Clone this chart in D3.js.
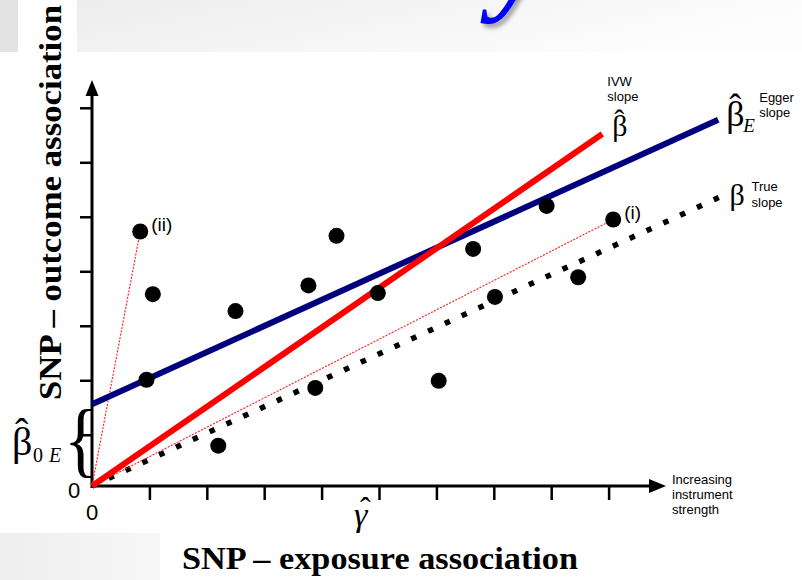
<!DOCTYPE html>
<html><head><meta charset="utf-8">
<script src="https://cdn.jsdelivr.net/npm/d3@7"></script>
<style>body{margin:0;background:#fff;} svg{display:block;}</style>
</head><body>
<svg id="chart" width="802" height="580"></svg>
<script>
// ---- data ----
const xTicks = [1, 2, 3, 4, 5, 6, 7, 8, 9];
const yTicks = [0.94, 1.94, 2.94, 3.94, 4.94, 5.94, 6.94];
const snpX = [0.84, 1.06, 0.95, 2.20, 2.50, 3.77, 4.26, 3.89, 4.98, 6.04, 6.64, 7.02, 7.92, 8.47, 9.08];
const snpY = [4.67, 3.52, 1.95, 0.74, 3.21, 3.68, 4.59, 1.80, 3.54, 1.93, 4.35, 3.47, 5.14, 3.83, 4.89];
const snpLabels = ["(ii)", "", "", "", "", "", "", "", "", "", "", "", "", "", "(i)"];
const eggerX = [0, 10.91], eggerY = [1.50, 6.72];
const ivwX = [0, 8.89], ivwY = [0, 6.46];
const trueX = [0, 10.95], trueY = [0, 5.31];
const axisTitleX = "SNP – exposure association";
const axisTitleY = "SNP – outcome association";
const strengthLabel = ["Increasing", "instrument", "strength"];

const svg = d3.select("#chart");
const defs = svg.append("defs");
const g1 = defs.append("linearGradient").attr("id", "topg").attr("x1", 0).attr("x2", 1).attr("y1", 0).attr("y2", 0.3);
g1.append("stop").attr("offset", 0).attr("stop-color", "#ebebeb");
g1.append("stop").attr("offset", 1).attr("stop-color", "#fdfdfd");
const g2 = defs.append("linearGradient").attr("id", "botg").attr("x1", 0).attr("x2", 1);
g2.append("stop").attr("offset", 0).attr("stop-color", "#eeeeee");
g2.append("stop").attr("offset", 1).attr("stop-color", "#f7f7f7");
const sh = defs.append("filter").attr("id", "shadow").attr("x", "-50%").attr("y", "-50%").attr("width", "200%").attr("height", "200%");
sh.append("feDropShadow").attr("dx", 3).attr("dy", 4).attr("stdDeviation", 2).attr("flood-color", "#000").attr("flood-opacity", 0.35);

// slide background pieces
svg.append("rect").attr("x", 0).attr("y", 0).attr("width", 802).attr("height", 52).attr("fill", "url(#topg)");
svg.append("rect").attr("x", 0).attr("y", 0).attr("width", 18).attr("height", 52).attr("fill", "#e3e3e3");
svg.append("rect").attr("x", 18).attr("y", 0).attr("width", 59).attr("height", 52).attr("fill", "#ffffff");
svg.append("rect").attr("x", 0).attr("y", 533).attr("width", 160).attr("height", 47).attr("fill", "url(#botg)");
svg.append("text").attr("x", 492).attr("y", 0).attr("fill", "#0000ff")
  .attr("font-family", "Liberation Serif").attr("font-style", "italic").attr("font-weight", "bold")
  .attr("font-size", 115).attr("filter", "url(#shadow)").text("y");

const x = d3.scaleLinear().domain([0, 10]).range([92, 666]);
const y = d3.scaleLinear().domain([0, 7.45]).range([486, 80]);

// axes ticks
const xa = svg.append("g").attr("transform", `translate(0,${y(0)})`)
  .call(d3.axisBottom(x).tickValues(xTicks).tickSize(14).tickSizeOuter(0).tickFormat(""));
xa.select(".domain").remove();
xa.selectAll("line").attr("stroke", "#000").attr("stroke-width", 2.5);
const ya = svg.append("g").attr("transform", `translate(${x(0)},0)`)
  .call(d3.axisLeft(y).tickValues(yTicks).tickSize(12).tickSizeOuter(0).tickFormat(""));
ya.select(".domain").remove();
ya.selectAll("line").attr("stroke", "#000").attr("stroke-width", 2.5);

// axis lines with arrows
svg.append("line").attr("x1", x(0)).attr("x2", x(10) - 10).attr("y1", y(0)).attr("y2", y(0))
  .attr("stroke", "#000").attr("stroke-width", 3);
svg.append("path").attr("d", `M${x(10)},${y(0)} L${x(10) - 17},${y(0) - 7} L${x(10) - 17},${y(0) + 7} Z`).attr("fill", "#000");
svg.append("line").attr("x1", x(0)).attr("x2", x(0)).attr("y1", y(0) + 2).attr("y2", y(7.45) + 10)
  .attr("stroke", "#000").attr("stroke-width", 3);
svg.append("path").attr("d", `M${x(0)},${y(7.45)} L${x(0) - 6.5},${y(7.45) + 16} L${x(0) + 6.5},${y(7.45) + 16} Z`).attr("fill", "#000");

const line = d3.line().x(d => x(d[0])).y(d => y(d[1]));
const pts = (xs, ys) => xs.map((v, i) => [v, ys[i]]);

// true slope (dotted)
svg.append("path").attr("d", line(pts(trueX, trueY))).attr("fill", "none")
  .attr("stroke", "#000").attr("stroke-width", 5.5).attr("stroke-dasharray", "5.5 13");
// thin red dotted lines to (i) and (ii)
snpLabels.forEach((l, i) => {
  if (!l) return;
  svg.append("path").attr("d", line([[0, 0], [snpX[i], snpY[i]]])).attr("fill", "none")
    .attr("stroke", "#ff2a2a").attr("stroke-width", 1.2).attr("stroke-dasharray", "2 1.4");
});
// Egger (blue) and IVW (red)
svg.append("path").attr("d", line(pts(eggerX, eggerY))).attr("fill", "none")
  .attr("stroke", "#00007f").attr("stroke-width", 6);
svg.append("path").attr("d", line(pts(ivwX, ivwY))).attr("fill", "none")
  .attr("stroke", "#ff0000").attr("stroke-width", 6);

// points
svg.append("g").selectAll("circle").data(snpX).join("circle")
  .attr("cx", (d, i) => x(d)).attr("cy", (d, i) => y(snpY[i])).attr("r", 8).attr("fill", "#000");
svg.append("g").selectAll("text").data(snpLabels.map((l, i) => ({ l, i })).filter(d => d.l)).join("text")
  .attr("x", d => x(snpX[d.i]) + 11).attr("y", d => y(snpY[d.i]) - 1)
  .attr("font-family", "Liberation Sans").attr("font-size", 19).attr("fill", "#000").text(d => d.l);

// text helpers
const serif = "Liberation Serif", sans = "Liberation Sans";
function t(xp, yp, s, size, fam, opts = {}) {
  const e = svg.append("text").attr("x", xp).attr("y", yp).attr("font-family", fam).attr("font-size", size).attr("fill", "#000").text(s);
  Object.entries(opts).forEach(([k, v]) => e.attr(k, v));
  return e;
}
// IVW label
const ivwEnd = [x(ivwX[1]), y(ivwY[1])];
t(ivwEnd[0] + 5, ivwEnd[1] - 48, "IVW", 13, sans);
t(ivwEnd[0] + 5, ivwEnd[1] - 33, "slope", 13, sans);
t(ivwEnd[0] + 10, ivwEnd[1] + 2, "β", 30, serif);
t(ivwEnd[0] + 12, ivwEnd[1] - 4, "ˆ", 30, serif);
// Egger label
const egEnd = [x(eggerX[1]), y(eggerY[1])];
t(egEnd[0] + 8, egEnd[1] + 6, "β", 36, serif);
t(egEnd[0] + 11, egEnd[1] - 1, "ˆ", 36, serif);
t(egEnd[0] + 25, egEnd[1] + 12, "E", 19, serif, { "font-style": "italic" });
t(egEnd[0] + 41, egEnd[1] - 18, "Egger", 13, sans);
t(egEnd[0] + 41, egEnd[1] - 3, "slope", 13, sans);
// True label
const trEnd = [x(trueX[1]), y(trueY[1])];
t(trEnd[0] + 9, trEnd[1] + 8, "β", 30, serif);
t(trEnd[0] + 31, trEnd[1] - 6, "True", 13, sans);
t(trEnd[0] + 31, trEnd[1] + 10, "slope", 13, sans);
// intercept label and brace
t(12, 455, "β", 40, serif);
t(15, 446, "ˆ", 40, serif);
t(33, 462, "0", 20, serif);
t(49, 462, "E", 20, serif, { "font-style": "italic" });
svg.append("text").attr("transform", "translate(64,467) scale(0.85,1)").attr("font-family", serif)
  .attr("font-size", 83).attr("fill", "#000").text("{");
// zero labels
t(74, 498, "0", 22, sans, { "text-anchor": "middle" });
t(x(0), 520, "0", 22, sans, { "text-anchor": "middle" });
// gamma hat
t(354, 526, "γ", 34, serif, { "font-style": "italic" });
t(360, 519, "ˆ", 32, serif);
// increasing instrument strength
strengthLabel.forEach((s, i) => t(672, 484 + i * 15, s, 13, sans));
// axis titles
t(182, 569, axisTitleX, 31, serif, { "font-weight": "bold", "textLength": 396, "lengthAdjust": "spacingAndGlyphs" });
svg.append("text").attr("transform", "translate(61,400) rotate(-90)").attr("font-family", serif)
  .attr("font-size", 31).attr("font-weight", "bold").attr("fill", "#000")
  .attr("textLength", 395).attr("lengthAdjust", "spacingAndGlyphs").text(axisTitleY);
</script>
</body></html>
